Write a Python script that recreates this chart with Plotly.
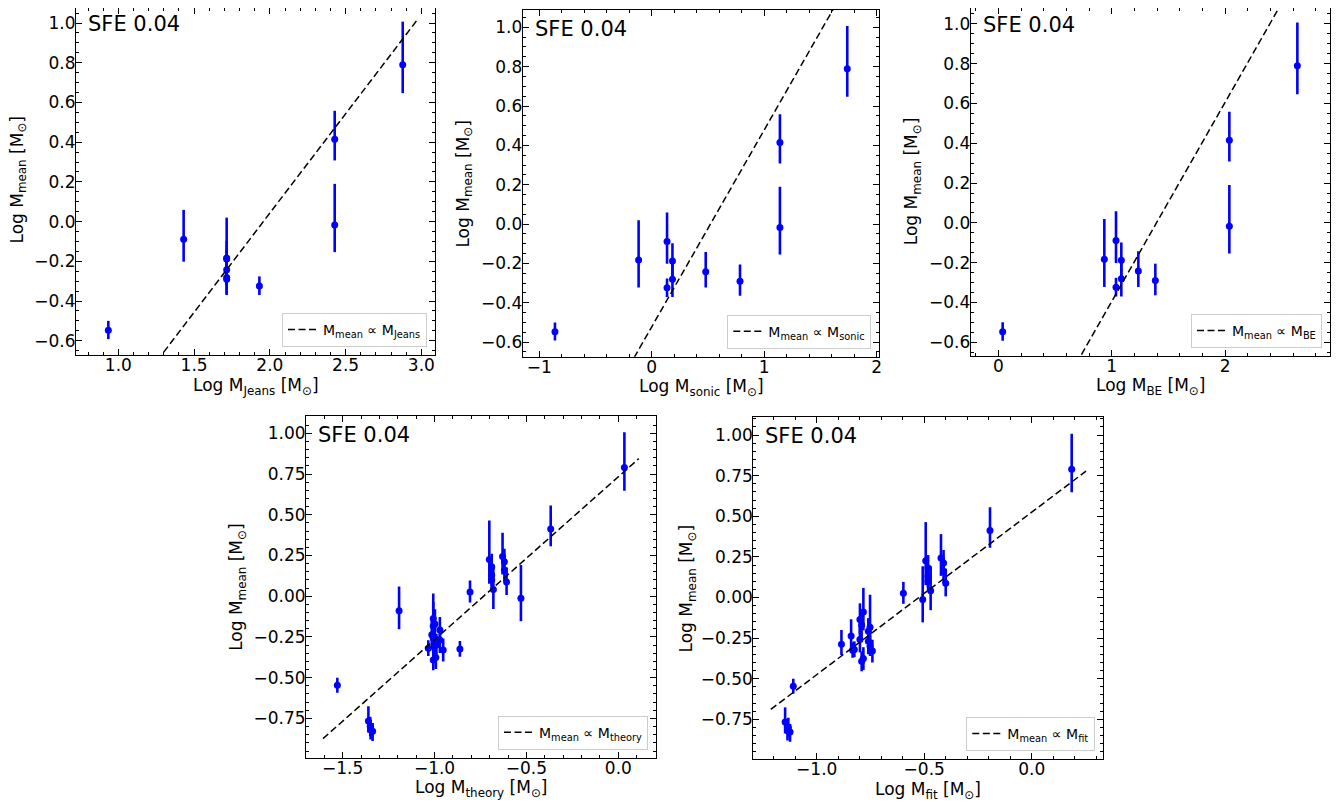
import plotly.graph_objects as go

# page body has an 8px margin: lay the figure out in reference pixels shifted by it
OFF = 8
W, H = 1340 - OFF, 802 - OFF

# ---------------- data: top row (11 points) ----------------
top_mean = [-0.547, -0.089, -0.183, -0.188, -0.281, -0.242, -0.290, -0.324, 0.415, -0.017, 0.790]
top_err_plus = [0.047, 0.148, 0.203, 0.090, 0.080, 0.100, 0.085, 0.048, 0.143, 0.207, 0.217]
top_err_minus = [0.045, 0.113, 0.139, 0.080, 0.089, 0.080, 0.074, 0.046, 0.107, 0.137, 0.143]
top_jeans = [0.934, 1.431, 1.715, 1.715, 1.715, 1.715, 1.715, 1.931, 2.428, 2.428, 2.877]
top_sonic = [-0.861, 0.136, -0.117, 0.184, 0.184, 0.480, 0.785, 0.136, 1.140, 1.140, 1.739]
top_be = [0.038, 1.038, 0.935, 1.085, 1.085, 1.235, 1.385, 1.038, 2.038, 2.038, 2.638]

# ---------------- data: bottom row ----------------
bot_mean = [0.790, 0.413, -0.013, 0.026, -0.547, -0.089, 0.226, 0.181, 0.130, 0.100, 0.042,
            0.243, 0.212, 0.161, 0.087, -0.324, -0.320, -0.392, -0.258, -0.183, -0.136,
            -0.207, -0.269, -0.330, -0.376, -0.288, -0.237, -0.766, -0.820, -0.828, -0.800,
            -0.170, -0.300]
bot_err_plus = [0.217, 0.143, 0.205, 0.070, 0.047, 0.148, 0.238, 0.080, 0.070, 0.070, 0.150,
                0.147, 0.080, 0.080, 0.090, 0.049, 0.050, 0.060, 0.080, 0.200, 0.100,
                0.080, 0.080, 0.070, 0.070, 0.088, 0.103, 0.090, 0.060, 0.050, 0.060,
                0.090, 0.070]
bot_err_minus = [0.143, 0.107, 0.140, 0.065, 0.045, 0.113, 0.150, 0.080, 0.070, 0.060, 0.120,
                 0.110, 0.070, 0.070, 0.080, 0.047, 0.047, 0.062, 0.080, 0.140, 0.090,
                 0.070, 0.080, 0.070, 0.070, 0.066, 0.090, 0.070, 0.060, 0.060, 0.060,
                 0.080, 0.060]
bot_theory = [0.033, -0.368, -0.530, -0.807, -1.529, -1.193, -0.702, -0.689, -0.689, -0.689, -0.680,
              -0.630, -0.620, -0.620, -0.608, -0.862, -1.034, -1.007, -1.007, -1.007, -1.007,
              -0.971, -0.971, -0.953, -0.993, -1.000, -1.015, -1.360, -1.348, -1.337, -1.350,
              -0.998, -0.990]
bot_fit = [0.186, -0.194, -0.507, -0.597, -1.109, -0.783, -0.493, -0.482, -0.482, -0.482, -0.470,
           -0.422, -0.410, -0.410, -0.400, -0.833, -0.825, -0.791, -0.799, -0.752, -0.799,
           -0.760, -0.760, -0.741, -0.783, -0.885, -0.840, -1.147, -1.136, -1.124, -1.132,
           -0.791, -0.752]

# intercepts of the unit-slope relations  log Mmean = log Mx + c
c_jeans, c_sonic, c_be, c_theory, c_fit = -1.957, -0.522, -1.395, 0.733, 0.525

label = "SFE 0.04"
FONT = "DejaVu Sans"
BLUE = "#0000ff"

panels = [
    dict(x=top_jeans, y=top_mean, ep=top_err_plus, em=top_err_minus, c=c_jeans, name="Jeans",
         box=(76, 5, 435, 355), xr=[0.7206, 3.090], yr=[-0.672, 1.091], xd=0.5, xm=0.1, yd=0.2, ym=0.05,
         xf=".1f", yf=".1f", yt_off=58.5),
    dict(x=top_sonic, y=top_mean, ep=top_err_plus, em=top_err_minus, c=c_sonic, name="sonic",
         box=(522.7, 10, 879.3, 356.7), xr=[-1.148, 2.024], yr=[-0.674, 1.088], xd=1, xm=0.2, yd=0.2, ym=0.05,
         xf="d", yf=".1f", yt_off=58.5),
    dict(x=top_be, y=top_mean, ep=top_err_plus, em=top_err_minus, c=c_be, name="BE",
         box=(970.7, 6, 1330, 356), xr=[-0.244, 2.926], yr=[-0.669, 1.090], xd=1, xm=0.2, yd=0.2, ym=0.05,
         xf="d", yf=".1f", yt_off=58.5),
    dict(x=bot_theory, y=bot_mean, ep=bot_err_plus, em=bot_err_minus, c=c_theory, name="theory",
         box=(306, 416, 656, 757.7), xr=[-1.6995, 0.205], yr=[-0.991, 1.106], xd=0.5, xm=0.1, yd=0.25, ym=0.05,
         xf=".1f", yf=".2f", yt_off=68),
    dict(x=bot_fit, y=bot_mean, ep=bot_err_plus, em=bot_err_minus, c=c_fit, name="fit",
         box=(753.3, 417.3, 1103.3, 759), xr=[-1.295, 0.333], yr=[-0.994, 1.109], xd=0.5, xm=0.1, yd=0.25, ym=0.05,
         xf=".1f", yf=".2f", yt_off=66),
]

fig = go.Figure()
layout = dict(
    width=W, height=H, margin=dict(l=0, r=0, t=0, b=0),
    paper_bgcolor="white", plot_bgcolor="white",
    font=dict(family=FONT, size=17, color="black"),
    annotations=[],
)

def px2x(p):
    return (p - OFF) / W

def px2y(p):
    return 1 - (p - OFF) / H

for i, p in enumerate(panels):
    n = i + 1
    xa = "x" if n == 1 else f"x{n}"
    ya = "y" if n == 1 else f"y{n}"
    leg = "legend" if n == 1 else f"legend{n}"
    x0, y0, x1, y1 = p["box"]

    # clip the panel top to the visible page area, keeping the data scale
    yr = list(p["yr"])
    y0v = max(y0, OFF)
    if y0v > y0:
        yr[1] -= (y0v - y0) * (yr[1] - yr[0]) / (y1 - y0)

    # data with error bars
    fig.add_trace(go.Scatter(
        x=p["x"], y=p["y"], mode="markers", xaxis=xa, yaxis=ya, showlegend=False,
        marker=dict(color=BLUE, size=7),
        error_y=dict(type="data", symmetric=False, array=p["ep"], arrayminus=p["em"],
                     color=BLUE, thickness=2.6, width=0),
    ))
    # proportionality line spanning the data range plus 5 %
    xmin, xmax = min(p["x"]), max(p["x"])
    pad = 0.05 * (xmax - xmin)
    lx = [xmin - pad, xmax + pad]
    ly = [v + p["c"] for v in lx]
    fig.add_trace(go.Scatter(
        x=lx, y=ly, mode="lines", xaxis=xa, yaxis=ya, legend=leg,
        line=dict(color="black", width=1.5, dash="7px,3.5px"),
        name=f"M<sub>mean</sub> ∝ M<sub>{p['name']}</sub>",
    ))

    common = dict(showline=True, linecolor="black", linewidth=1, mirror="allticks",
                  ticks="inside", ticklen=6, tickwidth=1, tickcolor="black",
                  showgrid=False, zeroline=False, automargin=False,
                  tickfont=dict(family=FONT, size=17, color="black"))
    layout["xaxis" if n == 1 else f"xaxis{n}"] = dict(
        common, domain=[px2x(x0), px2x(x1)], anchor=ya, range=p["xr"],
        tick0=0, dtick=p["xd"], tickformat=p["xf"], ticklabelstandoff=-5,
        minor=dict(ticks="inside", ticklen=3, tickwidth=1, tickcolor="black", dtick=p["xm"], tick0=0, showgrid=False),
    )
    layout["yaxis" if n == 1 else f"yaxis{n}"] = dict(
        common, domain=[px2y(y1), min(1.0, px2y(y0v))], anchor=xa, range=yr,
        tick0=0, dtick=p["yd"], tickformat=p["yf"], ticklabelstandoff=-4,
        minor=dict(ticks="inside", ticklen=3, tickwidth=1, tickcolor="black", dtick=p["ym"], tick0=0, showgrid=False),
    )
    layout[leg] = dict(
        x=px2x(x1 - 8), y=px2y(y1 - 8), xanchor="right", yanchor="bottom",
        xref="paper", yref="paper",
        bgcolor="white", bordercolor="#cccccc", borderwidth=1,
        font=dict(family=FONT, size=14, color="black"), tracegroupgap=0,
        itemwidth=30,
    )
    # SFE label
    layout["annotations"].append(dict(
        text=label, x=px2x(x0 + 10), y=min(1.0, px2y(y0 + 5)), xref="paper", yref="paper",
        xanchor="left", yanchor="top", showarrow=False,
        font=dict(family=FONT, size=21, color="black"),
    ))
    # axis titles
    layout["annotations"].append(dict(
        text=f"Log M<sub>{p['name']}</sub> [M<sub>⊙</sub>]",
        x=px2x((x0 + x1) / 2), y=px2y(y1 + 31), xref="paper", yref="paper",
        xanchor="center", yanchor="middle", showarrow=False,
        font=dict(family=FONT, size=17, color="black"),
    ))
    layout["annotations"].append(dict(
        text="Log M<sub>mean</sub> [M<sub>⊙</sub>]",
        x=px2x(x0 - p["yt_off"]), y=px2y((y0 + y1) / 2), xref="paper", yref="paper",
        xanchor="center", yanchor="middle", showarrow=False, textangle=-90,
        font=dict(family=FONT, size=17, color="black"),
    ))

fig.update_layout(**layout)
fig.write_html("out.html")
